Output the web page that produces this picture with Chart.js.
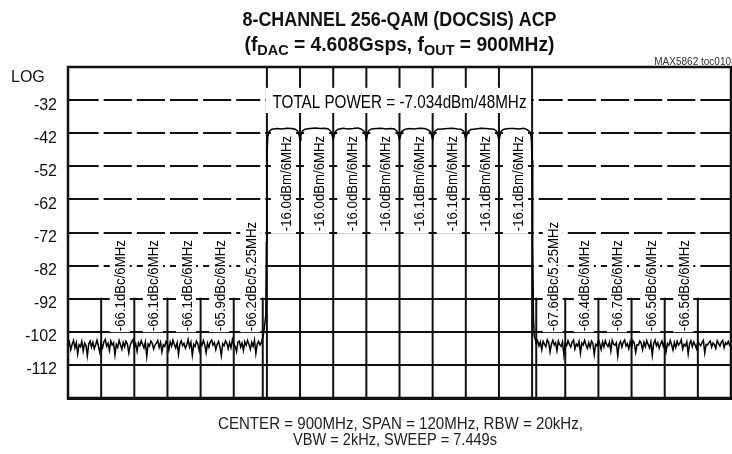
<!DOCTYPE html>
<html>
<head>
<meta charset="utf-8">
<script src="https://cdn.jsdelivr.net/npm/chart.js@4.4.0/dist/chart.umd.min.js"></script>
<style>
html, body { margin: 0; padding: 0; background: #fff; }
</style>
</head>
<body>
<canvas id="acpChart" width="732" height="454"></canvas>
<script>
// sweep: center 900MHz, span 120MHz, 10dB/div, ref -22dBm
var freqMin = 840, freqMax = 960;
var refTop = -22, refBottom = -122;
var yTicks = [-32, -42, -52, -62, -72, -82, -92, -102, -112];

// noise floor samples (dBm), 0.25MHz apart
var noiseStep = 0.25;
var noiseLeftStart = 840;
var noiseLeft = [
  -106.2,-105.1,-107.4,-105.8,-104.6,-106.9,-105.3,-108.7,-105.9,-106.5,-104.9,-107.8,-105.4,
  -106.1,-109.3,-105.7,-104.8,-106.6,-105.2,-107.1,-105.9,-104.5,-106.3,-108.2,-105.6,-106.8,
  -105.0,-104.3,-106.4,-105.5,-107.6,-104.8,-106.0,-105.3,-109.0,-105.8,-106.7,-104.6,-105.9,
  -107.3,-105.2,-106.5,-104.9,-105.7,-108.4,-106.1,-105.0,-104.4,-106.8,-105.6,-107.9,-105.3,
  -106.2,-104.7,-105.8,-106.9,-105.1,-109.4,-105.7,-106.3,-104.8,-105.5,-107.2,-106.0,-105.4,
  -104.6,-106.7,-105.2,-108.1,-105.9,-106.4,-104.9,-105.6,-107.5,-105.1,-106.3,-104.5,-105.8,
  -106.9,-105.3,-108.8,-105.7,-104.7,-106.2,-105.5,-107.0,-105.9,-104.3,-106.6,-105.2,-109.1,
  -105.8,-106.4,-104.8,-105.6,-107.7,-105.0,-106.1,-104.6,-105.9,-108.3,-105.4,-106.7,-105.1,
  -104.5,-106.0,-105.3,-107.4,-105.8,-104.9,-106.5,-109.2,-105.6,-106.2,-104.7,-105.5,-107.1,
  -105.2,-106.8,-104.4,-105.9,-106.3,-108.0,-105.1,-104.8,-106.6,-105.4,-107.6,-105.0,-106.1,
  -104.6,-105.8,-107.3,-105.2,-106.4,-104.5,-108.6,-105.7,-104.9,-106.0,-105.3,-103.9,-101.2
];
var noiseRightStart = 924.5;
var noiseRight = [
  -103.8,-105.6,-104.7,-106.3,-105.1,-107.4,-104.9,-105.8,-106.5,-104.4,-105.2,-108.1,-105.7,
  -104.6,-106.0,-105.3,-107.7,-104.8,-105.9,-106.4,-105.0,-109.0,-105.5,-106.2,-104.7,-105.8,
  -106.6,-105.1,-104.5,-107.2,-105.7,-106.3,-104.9,-108.5,-105.4,-106.0,-104.6,-105.9,-107.0,
  -105.3,-106.7,-104.8,-105.5,-108.9,-105.8,-106.2,-104.4,-105.6,-107.3,-105.0,-106.5,-104.7,
  -105.9,-106.4,-105.1,-107.8,-104.6,-105.7,-106.1,-105.3,-109.3,-105.8,-104.9,-106.6,-105.2,
  -104.5,-106.3,-105.6,-107.1,-105.0,-106.8,-104.7,-105.4,-108.2,-105.9,-106.0,-104.8,-105.5,
  -107.4,-105.2,-106.5,-104.6,-105.8,-106.9,-105.1,-109.1,-105.6,-104.5,-106.2,-105.3,-107.0,
  -105.7,-104.8,-106.4,-105.0,-108.0,-105.5,-106.1,-104.6,-105.9,-107.5,-105.2,-106.7,-104.9,
  -106.0,-105.4,-104.4,-107.2,-105.8,-106.3,-105.0,-108.7,-105.6,-104.7,-106.5,-105.1,-105.9,
  -107.1,-104.9,-105.6,-106.2,-105.3,-104.6,-108.4,-105.8,-106.0,-105.2,-104.8,-106.6,-105.4,
  -105.9,-107.0,-104.7,-105.5,-106.3,-105.1,-104.6,-106.8,-105.3,-105.8,-104.9,-106.1,-105.6
];

// carrier skirts (MHz, dBm)
var skirtLeftFreq = [875.8, 875.92, 876.0];
var skirtLeftLvl = [-97, -75, -50];
var skirtRightFreq = [924.0, 924.1, 924.25, 924.4];
var skirtRightLvl = [-50, -76, -98, -103.5];

// 8 carriers, 6MHz each
var carrierEdges = [876, 882, 888, 894, 900, 906, 912, 918, 924];
var chanOffsets = [0.15, 0.4, 0.9, 1.8, 2.7, 3.6, 4.5, 5.1, 5.6, 5.85];
var chanLevels = [
  [-43.0,-41.5,-40.8,-40.6,-40.7,-40.5,-40.6,-40.8,-41.4,-42.8],
  [-42.8,-41.4,-40.8,-40.6,-40.4,-40.6,-40.5,-40.7,-41.5,-42.9],
  [-42.9,-41.5,-40.8,-40.5,-40.7,-40.6,-40.4,-40.8,-41.4,-42.8],
  [-42.8,-41.3,-40.7,-40.6,-40.5,-40.7,-40.6,-40.7,-41.5,-43.0],
  [-43.0,-41.5,-40.9,-40.6,-40.7,-40.5,-40.6,-40.9,-41.5,-42.9],
  [-42.9,-41.4,-40.8,-40.7,-40.6,-40.5,-40.7,-40.8,-41.4,-42.8],
  [-42.8,-41.5,-40.9,-40.7,-40.5,-40.6,-40.7,-40.8,-41.5,-43.0],
  [-43.0,-41.4,-40.8,-40.6,-40.6,-40.7,-40.5,-40.9,-41.6,-43.2]
];
var notchLevels = [-44.0, -43.8, -44.1, -43.9, -44.0, -43.8, -44.0];
var channelPower = ['-16.0dBm/6MHz','-16.0dBm/6MHz','-16.0dBm/6MHz','-16.0dBm/6MHz',
                    '-16.1dBm/6MHz','-16.1dBm/6MHz','-16.1dBm/6MHz','-16.1dBm/6MHz'];

// adjacent channel measurement bands
var acpLeftEdges = [846, 852, 858, 864, 870, 875.25];
var acpLeftText = ['-66.1dBc/6MHz','-66.1dBc/6MHz','-66.1dBc/6MHz','-65.9dBc/6MHz','-66.2dBc/5.25MHz'];
var acpRightEdges = [924.75, 930, 936, 942, 948, 954];
var acpRightText = ['-67.6dBc/5.25MHz','-66.4dBc/6MHz','-66.7dBc/6MHz','-66.5dBc/6MHz','-66.5dBc/6MHz'];
var totalPowerText = 'TOTAL POWER = -7.034dBm/48MHz';

var fontFam = "'Liberation Sans', Arial, sans-serif";

// build the trace
var trace = [];
noiseLeft.forEach(function(v, i) { trace.push({x: noiseLeftStart + i * noiseStep, y: v}); });
skirtLeftFreq.forEach(function(f, i) { trace.push({x: f, y: skirtLeftLvl[i]}); });
chanLevels.forEach(function(lv, c) {
  if (c > 0) trace.push({x: carrierEdges[c], y: notchLevels[c - 1]});
  chanOffsets.forEach(function(o, k) { trace.push({x: carrierEdges[c] + o, y: lv[k]}); });
});
skirtRightFreq.forEach(function(f, i) { trace.push({x: f, y: skirtRightLvl[i]}); });
noiseRight.forEach(function(v, i) { trace.push({x: noiseRightStart + i * noiseStep, y: v}); });

function vLine(ctx, x, y1, y2, w) {
  ctx.beginPath();
  ctx.lineWidth = w;
  ctx.moveTo(x, y1);
  ctx.lineTo(x, y2);
  ctx.stroke();
}

// rotated label reading upward, baseline on the right
function rotLabel(ctx, text, x, yBottom, boxW, pad) {
  ctx.font = '15px ' + fontFam;
  var w = ctx.measureText(text).width * 0.88;
  if (boxW) {
    ctx.fillStyle = '#fff';
    ctx.fillRect(x - boxW / 2, yBottom - w - pad, boxW, w + pad + 1);
  }
  ctx.save();
  ctx.translate(x + 5.5, yBottom);
  ctx.rotate(-Math.PI / 2);
  ctx.fillStyle = '#000';
  ctx.textAlign = 'left';
  ctx.textBaseline = 'alphabetic';
  ctx.fillText(text, 0, 0, w);
  ctx.restore();
}

var acpDecor = {
  id: 'acpDecor',
  beforeDatasetsDraw: function(chart) {
    var ctx = chart.ctx, xs = chart.scales.x, ys = chart.scales.y, a = chart.chartArea;
    var y92 = ys.getPixelForValue(-92);
    var acpEdges = acpLeftEdges.concat(acpRightEdges);
    ctx.save();
    ctx.strokeStyle = '#111';
    // white breaks in the grid above the ACP bands
    acpEdges.forEach(function(f) {
      var x = xs.getPixelForValue(f);
      ctx.fillStyle = '#fff';
      ctx.fillRect(x - 2.5, a.top + 1, 5, y92 - a.top - 2);
      vLine(ctx, x, y92 - 1, a.bottom, 2);
    });
    carrierEdges.forEach(function(f) {
      vLine(ctx, xs.getPixelForValue(f), a.top, a.bottom, 2);
    });
    // total power box
    var bx1 = xs.getPixelForValue(875.8), bx2 = xs.getPixelForValue(923.8);
    var by1 = ys.getPixelForValue(-28.3), by2 = ys.getPixelForValue(-35.9);
    ctx.fillStyle = '#fff';
    ctx.fillRect(bx1, by1, bx2 - bx1, by2 - by1);
    ctx.fillStyle = '#000';
    ctx.font = '18px ' + fontFam;
    ctx.textAlign = 'center';
    ctx.textBaseline = 'alphabetic';
    ctx.fillText(totalPowerText, xs.getPixelForValue(900), ys.getPixelForValue(-34.3), 254);
    // carrier labels
    channelPower.forEach(function(t, c) {
      var x1 = xs.getPixelForValue(carrierEdges[c]), x2 = xs.getPixelForValue(carrierEdges[c + 1]);
      var yt = ys.getPixelForValue(-41.6);
      ctx.fillStyle = '#fff';
      ctx.fillRect(x1 + 4, yt, x2 - x1 - 8, ys.getPixelForValue(-72.4) - yt);
      rotLabel(ctx, t, (x1 + x2) / 2 + 2, ys.getPixelForValue(-71.6), 0, 0);
    });
    // ACP labels
    var yAcp = ys.getPixelForValue(-101.8);
    acpLeftText.forEach(function(t, i) {
      var x = (xs.getPixelForValue(acpLeftEdges[i]) + xs.getPixelForValue(acpLeftEdges[i + 1])) / 2;
      rotLabel(ctx, t, x + 2, yAcp, 20, 3);
    });
    acpRightText.forEach(function(t, i) {
      var x = (xs.getPixelForValue(acpRightEdges[i]) + xs.getPixelForValue(acpRightEdges[i + 1])) / 2;
      rotLabel(ctx, t, x + 2, yAcp, 20, 3);
    });
    ctx.restore();
  },
  afterDraw: function(chart) {
    var ctx = chart.ctx, ys = chart.scales.y, a = chart.chartArea;
    var cx = (a.left + a.right) / 2;
    ctx.save();
    // frame
    ctx.strokeStyle = '#111';
    ctx.lineWidth = 2.5;
    ctx.strokeRect(a.left, a.top, a.right - a.left, a.bottom - a.top);
    ctx.lineWidth = 3;
    ctx.beginPath();
    ctx.moveTo(a.left - 1, a.bottom + 0.5);
    ctx.lineTo(a.right + 1, a.bottom + 0.5);
    ctx.stroke();
    // y labels
    ctx.fillStyle = '#111';
    ctx.font = '16px ' + fontFam;
    ctx.textAlign = 'right';
    ctx.textBaseline = 'middle';
    yTicks.forEach(function(v) { ctx.fillText(String(v), 57, ys.getPixelForValue(v) + 5); });
    ctx.textAlign = 'left';
    ctx.fillText('LOG', 11, ys.getPixelForValue(refTop) + 11);
    // part number
    ctx.font = '10px ' + fontFam;
    ctx.fillStyle = '#333';
    ctx.textAlign = 'right';
    ctx.textBaseline = 'alphabetic';
    ctx.fillText('MAX5862 toc010', 731, 65);
    // title
    ctx.fillStyle = '#111';
    ctx.textAlign = 'center';
    ctx.font = 'bold 20px ' + fontFam;
    ctx.fillText('8-CHANNEL 256-QAM (DOCSIS) ACP', cx, 26, 314);
    var parts = [['(f', 0], ['DAC', 1], [' = 4.608Gsps, f', 0], ['OUT', 1], [' = 900MHz)', 0]];
    var widths = parts.map(function(p) {
      ctx.font = p[1] ? 'bold 15px ' + fontFam : 'bold 20px ' + fontFam;
      return ctx.measureText(p[0]).width;
    });
    var total = widths.reduce(function(s, w) { return s + w; }, 0);
    var k = Math.min(1, 310 / total);
    ctx.save();
    ctx.translate(cx - total * k / 2, 51);
    ctx.scale(k, 1);
    ctx.textAlign = 'left';
    var px = 0;
    parts.forEach(function(p, i) {
      ctx.font = p[1] ? 'bold 15px ' + fontFam : 'bold 20px ' + fontFam;
      ctx.fillText(p[0], px, p[1] ? 4 : 0);
      px += widths[i];
    });
    ctx.restore();
    // footer
    ctx.font = '16px ' + fontFam;
    ctx.fillStyle = '#222';
    ctx.fillText('CENTER = 900MHz, SPAN = 120MHz, RBW = 20kHz,', 400.5, 429, 365);
    ctx.fillText('VBW = 2kHz, SWEEP = 7.449s', 395, 445, 204);
    ctx.restore();
  }
};

var chartContainer = document.getElementById('acpChart');
var acpChart = new Chart(chartContainer, {
  type: 'line',
  data: {
    datasets: [{
      data: trace,
      borderColor: '#000',
      borderWidth: 1.5,
      pointRadius: 0,
      tension: 0,
      fill: false
    }]
  },
  options: {
    responsive: false,
    animation: false,
    devicePixelRatio: 1,
    layout: { padding: { left: 0, top: 67, right: 1, bottom: 56 } },
    plugins: { legend: { display: false }, tooltip: { enabled: false } },
    scales: {
      x: { type: 'linear', min: freqMin, max: freqMax, display: false },
      y: {
        min: refBottom,
        max: refTop,
        ticks: { display: false, stepSize: 10 },
        border: { display: false },
        grid: { color: '#111', lineWidth: 2, drawTicks: false },
        afterFit: function(s) { s.width = 68; }
      }
    }
  },
  plugins: [acpDecor]
});
</script>
</body>
</html>
